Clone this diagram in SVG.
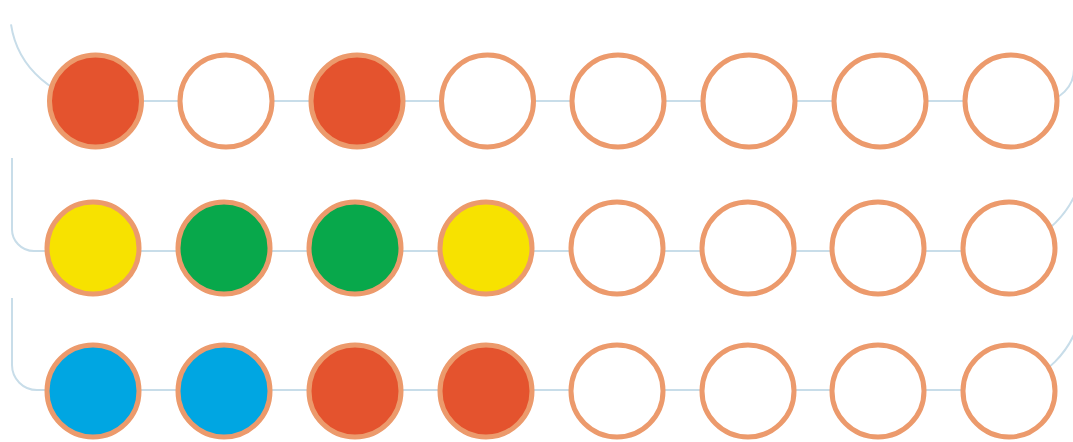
<svg xmlns="http://www.w3.org/2000/svg" width="1073" height="442" viewBox="0 0 1073 442">
<style>
.c{stroke:#ec9a6c;stroke-width:5}
.w{fill:#ffffff}
.r{fill:#e4532e}
.y{fill:#f7e200}
.g{fill:#08a84b}
.b{fill:#00a6e2}
.l{fill:none;stroke:#c8dde9;stroke-width:2}
</style>
<rect width="1073" height="442" fill="#ffffff"/>
<g id="connectors">
<path class="l" d="M 11 24.4 A 90 90 0 0 0 100 101 H 1042 A 32 32 0 0 0 1074 69 V 40"/>
<path class="l" d="M 12 158 V 228 A 22 22 0 0 0 34 251 H 987 A 97 97 0 0 0 1084 154"/>
<path class="l" d="M 12 298 V 365 A 25 25 0 0 0 37 390 H 987 A 96 96 0 0 0 1083 294"/>
</g>
<g id="r1n1"><circle class="c r" cx="95.5" cy="101" r="46"/></g>
<g id="r1n2"><circle class="c w" cx="226" cy="101" r="46"/></g>
<g id="r1n3"><circle class="c r" cx="357" cy="101" r="46"/></g>
<g id="r1n4"><circle class="c w" cx="487.5" cy="101" r="46"/></g>
<g id="r1n5"><circle class="c w" cx="618" cy="101" r="46"/></g>
<g id="r1n6"><circle class="c w" cx="749" cy="101" r="46"/></g>
<g id="r1n7"><circle class="c w" cx="880" cy="101" r="46"/></g>
<g id="r1n8"><circle class="c w" cx="1011" cy="101" r="46"/></g>
<g id="r2n1"><circle class="c y" cx="93" cy="248" r="46"/></g>
<g id="r2n2"><circle class="c g" cx="224" cy="248" r="46"/></g>
<g id="r2n3"><circle class="c g" cx="355" cy="248" r="46"/></g>
<g id="r2n4"><circle class="c y" cx="486" cy="248" r="46"/></g>
<g id="r2n5"><circle class="c w" cx="617" cy="248" r="46"/></g>
<g id="r2n6"><circle class="c w" cx="748" cy="248" r="46"/></g>
<g id="r2n7"><circle class="c w" cx="878" cy="248" r="46"/></g>
<g id="r2n8"><circle class="c w" cx="1009" cy="248" r="46"/></g>
<g id="r3n1"><circle class="c b" cx="93" cy="391" r="46"/></g>
<g id="r3n2"><circle class="c b" cx="224" cy="391" r="46"/></g>
<g id="r3n3"><circle class="c r" cx="355" cy="391" r="46"/></g>
<g id="r3n4"><circle class="c r" cx="486" cy="391" r="46"/></g>
<g id="r3n5"><circle class="c w" cx="617" cy="391" r="46"/></g>
<g id="r3n6"><circle class="c w" cx="748" cy="391" r="46"/></g>
<g id="r3n7"><circle class="c w" cx="878" cy="391" r="46"/></g>
<g id="r3n8"><circle class="c w" cx="1009" cy="391" r="46"/></g>
</svg>
